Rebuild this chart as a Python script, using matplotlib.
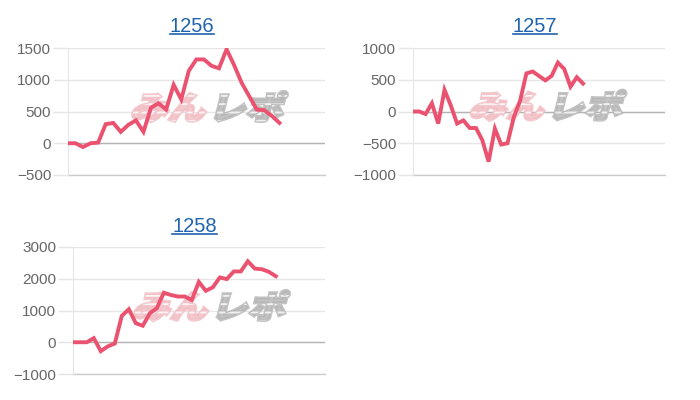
import matplotlib

matplotlib.use("Agg")

import matplotlib.pyplot as plt
from matplotlib.font_manager import FontProperties
from matplotlib.lines import Line2D
from matplotlib.patches import PathPatch
from matplotlib.textpath import TextPath
from matplotlib.transforms import Affine2D, ScaledTranslation

# cumulative values per machine
titles = ["1256", "1257", "1258"]
n_days = [35, 41, 37]
values_1256 = [0, 0, -60, 0, 10, 300, 320, 180, 290, 360, 180, 560, 630, 530,
               920, 690, 1140, 1320, 1320, 1220, 1180, 1480, 1230, 950, 740,
               530, 520, 430, 320]
values_1257 = [0, 0, -40, 130, -190, 340, 95, -190, -140, -260, -260, -450,
               -790, -270, -520, -500, -90, 170, 600, 630, 560, 490, 560, 770,
               670, 390, 540, 440]
values_1258 = [0, 0, 0, 130, -280, -130, -40, 830, 1040, 600, 520, 910, 1070,
               1560, 1490, 1440, 1440, 1330, 1900, 1620, 1730, 2040, 1990, 2230,
               2230, 2550, 2320, 2300, 2220, 2080]
y_ticks = [[-500, 0, 500, 1000, 1500],
           [-1000, -500, 0, 500, 1000],
           [-1000, 0, 1000, 2000, 3000]]
watermark = ["みん", "レポ"]

LINE = "#eb5270"
GRID = "#e6e6e6"
ZERO = "#b4b4b4"
TITLE = "#1f64ae"

plt.rcParams["font.family"] = ["Liberation Sans", "DejaVu Sans"]
plt.rcParams["hatch.linewidth"] = 1.4

fig = plt.figure(figsize=(7, 4), dpi=100)
boxes = [[0.097, 0.5625, 0.367, 0.3175],
         [0.590, 0.5625, 0.360, 0.3175],
         [0.104, 0.065, 0.360, 0.3175]]
series = [values_1256, values_1257, values_1258]
mark_pos = [(0.55, 0.55), (0.535, 0.56), (0.55, 0.55)]

jp = FontProperties(family="Noto Sans CJK JP", weight="black")


def add_watermark(ax, fx, fy):
    p1 = TextPath((0, 0), watermark[0], size=27, prop=jp)
    p2 = TextPath((0, 0), watermark[1], size=27, prop=jp)
    w1 = p1.get_extents().x1
    gap = 3
    w2 = p2.get_extents().x1
    total = w1 + gap + w2
    for path, dx, col in [(p1, 0, "#f0bcc2"), (p2, w1 + gap, "#b4b4b4")]:
        tr = (Affine2D().translate(dx - total / 2, -12).scale(1, 0.85)
              .skew_deg(14, 0).scale(1 / 72)
              + fig.dpi_scale_trans + ScaledTranslation(fx, fy, ax.transAxes))
        # body, thickened with an edge of the same colour
        ax.add_patch(PathPatch(path, transform=tr, facecolor=col, edgecolor=col,
                               lw=2.2, alpha=0.8, zorder=1))
        # white horizontal stripes
        ax.add_patch(PathPatch(path, transform=tr, facecolor="none",
                               edgecolor="white", lw=0, hatch="--",
                               alpha=0.8, zorder=1.1))


axes = []
for i, box in enumerate(boxes):
    ax = fig.add_axes(box)
    vals = series[i]
    ax.plot(range(len(vals)), vals, color=LINE, lw=2.8, zorder=3,
            solid_joinstyle="miter")
    ax.set_xlim(0, n_days[i] - 1)
    ax.set_ylim(y_ticks[i][0], y_ticks[i][-1])
    ax.set_yticks(y_ticks[i])
    ax.set_xticks([])
    ax.grid(axis="y", color=GRID, lw=1)
    ax.set_axisbelow(True)
    for s in ["top", "right", "bottom"]:
        ax.spines[s].set_visible(False)
    ax.spines["left"].set_color(GRID)
    ax.tick_params(axis="y", length=11, width=1, color=GRID, pad=1,
                   labelsize=11, labelcolor="#666666")
    ax.axhline(0, color=ZERO, lw=1, zorder=0.6)
    ax.axhline(y_ticks[i][0], color="#cccccc", lw=1, zorder=0.6, clip_on=False)
    for t, v in zip(ax.yaxis.get_major_ticks(), y_ticks[i]):
        if v == 0:
            t.tick1line.set_color(ZERO)
        elif v == y_ticks[i][0]:
            t.tick1line.set_color("#cccccc")
    add_watermark(ax, *mark_pos[i])
    axes.append(ax)

title_y = [0.935, 0.935, 0.435]
title_texts = []
for i, ax in enumerate(axes):
    b = boxes[i]
    t = fig.text(b[0] + b[2] / 2 - 0.006, title_y[i], titles[i], ha="center",
                 va="center", fontsize=14.5, color=TITLE)
    title_texts.append(t)

fig.canvas.draw()
renderer = fig.canvas.get_renderer()
inv = fig.transFigure.inverted()
for t in title_texts:
    bb = t.get_window_extent(renderer)
    (x0, y0), (x1, _) = inv.transform([(bb.x0, bb.y0 + 2), (bb.x1, bb.y0)])
    fig.add_artist(Line2D([x0, x1], [y0, y0], color=TITLE, lw=1.2,
                          transform=fig.transFigure))

fig.savefig("out.png", dpi=100)
plt.close(fig)
